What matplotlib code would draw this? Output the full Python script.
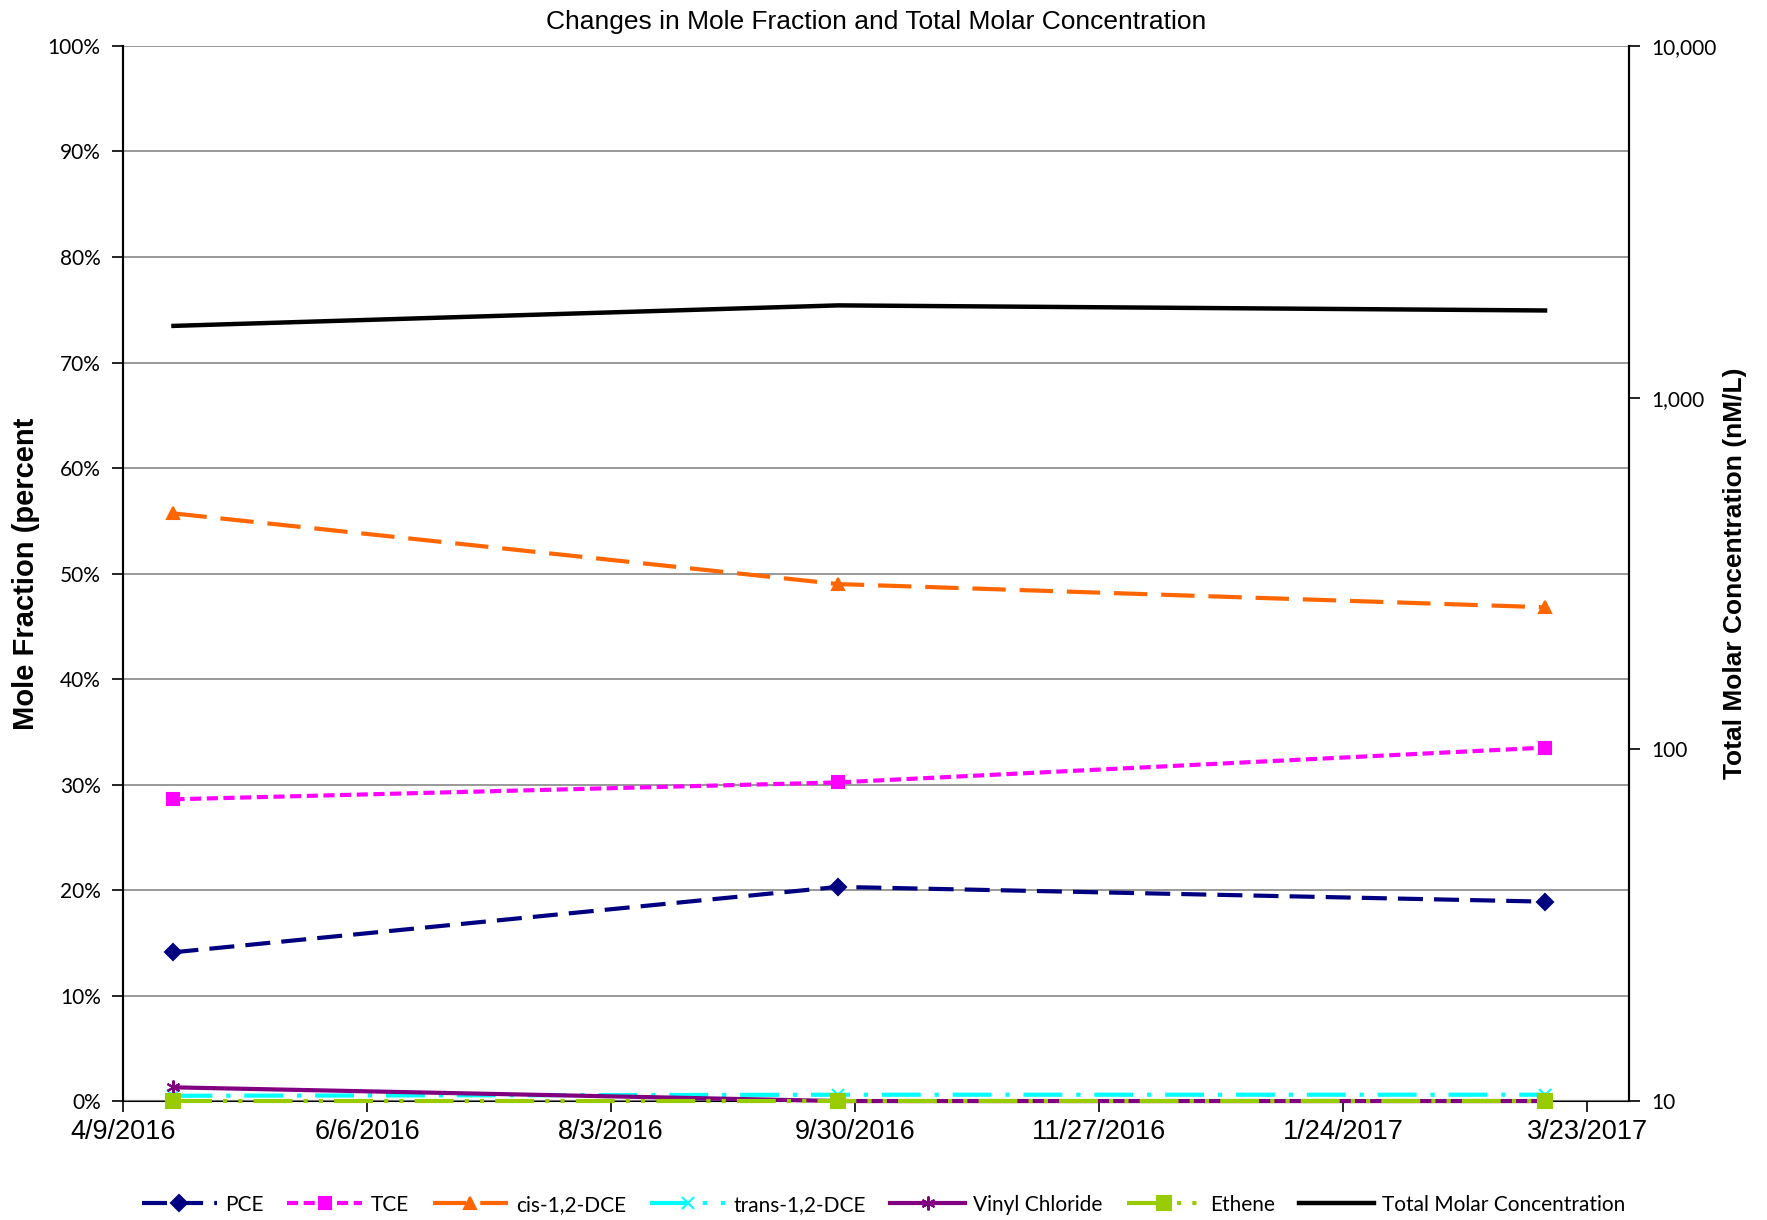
import matplotlib
matplotlib.use("Agg")
import matplotlib.pyplot as plt
import matplotlib.ticker as mticker
import numpy as np
import datetime as dt

plt.rcParams['lines.scale_dashes'] = False

# Sampling dates
dates = [dt.date(2016, 4, 21), dt.date(2016, 9, 26), dt.date(2017, 3, 13)]

# Mole fractions (percent)
pce = [14.1, 20.3, 18.9]
tce = [28.6, 30.2, 33.5]
cis_dce = [55.7, 49.0, 46.8]
trans_dce = [0.5, 0.6, 0.6]
vinyl_chloride = [1.3, 0.0, 0.0]
ethene = [0.0, 0.0, 0.0]

# Total molar concentration (nM/L)
total_molar = [1600, 1830, 1770]

x_ticks = [dt.date(2016, 4, 9) + dt.timedelta(days=58 * i) for i in range(7)]
x_min = dt.date(2016, 4, 9)
x_max = dt.date(2017, 4, 2)

sans = ['Liberation Sans', 'DejaVu Sans']
soft = ['Lato', 'DejaVu Sans']
fig = plt.figure(figsize=(17.67, 12.2), dpi=100)
ax = fig.add_axes([0.0696, 0.0975, 0.8524, 0.8648])
ax2 = ax.twinx()
ax.set_zorder(2)
ax.patch.set_visible(False)

lw = 3.0
series = [
    ("PCE", pce, '#000080', (0, (18, 8)), 'D', 8),
    ("TCE", tce, '#FF00FF', (0, (8, 4)), 's', 9),
    ("cis-1,2-DCE", cis_dce, '#FF6600', (0, (24, 10)), '^', 9),
    ("trans-1,2-DCE", trans_dce, '#00FFFF', (0, (28, 10, 3, 10)), 'x', 9),
    ("Vinyl Chloride", vinyl_chloride, '#800080', '-', (6, 2, 0), 10),
    ("Ethene", ethene, '#99CC00', (0, (28, 8, 3, 8, 3, 8)), 's', 10),
]

handles = []
for name, vals, color, ls, mk, ms in series:
    h, = ax.plot(dates, vals, color=color, linestyle=ls, linewidth=lw,
                 marker=mk, markersize=ms, markeredgecolor=color,
                 markerfacecolor=color, markeredgewidth=1.5, label=name,
                 clip_on=False, zorder=3)
    handles.append(h)

ht, = ax2.plot(dates, total_molar, color='black', linewidth=3.2,
               label="Total Molar Concentration", zorder=3)
handles.append(ht)

ax.set_xlim(x_min, x_max)
ax.set_ylim(0, 100)
ax.set_yticks(np.arange(0, 101, 10))
ax.yaxis.set_major_formatter(mticker.FuncFormatter(lambda v, p: f"{int(v)}%"))
ax.set_xticks(x_ticks)
ax.set_xticklabels([f"{d.month}/{d.day}/{d.year}" for d in x_ticks],
                   fontsize=19.5, family=sans)
ax.grid(axis='y', color='#888888', linewidth=1.2)

ax2.set_yscale('log')
ax2.set_ylim(10, 10000)
ax2.set_yticks([10, 100, 1000, 10000])
ax2.yaxis.set_major_formatter(mticker.FuncFormatter(lambda v, p: f"{int(v):,}"))
ax2.yaxis.set_minor_locator(mticker.NullLocator())

for a in (ax, ax2):
    a.spines['top'].set_visible(False)
    for s in ('left', 'right', 'bottom'):
        a.spines[s].set_color('black')
        a.spines[s].set_linewidth(1.5)
    a.tick_params(direction='out', length=8, width=1.2, color='black')
ax.spines['bottom'].set_zorder(1)
ax2.spines['bottom'].set_visible(False)

for lab in ax.get_yticklabels() + ax2.get_yticklabels():
    lab.set_family(soft)
ax.tick_params(axis='y', labelsize=15, pad=8)
ax2.tick_params(axis='y', labelsize=15, pad=8)
ax.tick_params(axis='x', pad=5)

ax.set_ylabel("Mole Fraction (percent", fontsize=21, fontweight='bold', family=sans)
ax.yaxis.set_label_coords(-0.055, 0.5)
ax2.set_ylabel("Total Molar Concentration (nM/L)", fontsize=19,
               fontweight='bold', rotation=90, family=sans)
ax2.yaxis.set_label_coords(1.062, 0.5)
ax.set_title("Changes in Mole Fraction and Total Molar Concentration",
             fontsize=19, pad=12, family=sans)

fig.legend(handles=handles, loc='center', bbox_to_anchor=(0.5, 0.0125),
           ncol=7, frameon=False, handlelength=3.6,
           columnspacing=1.15, handletextpad=0.4,
           prop={'family': soft, 'size': 15})

fig.savefig("out.png", dpi=100)
